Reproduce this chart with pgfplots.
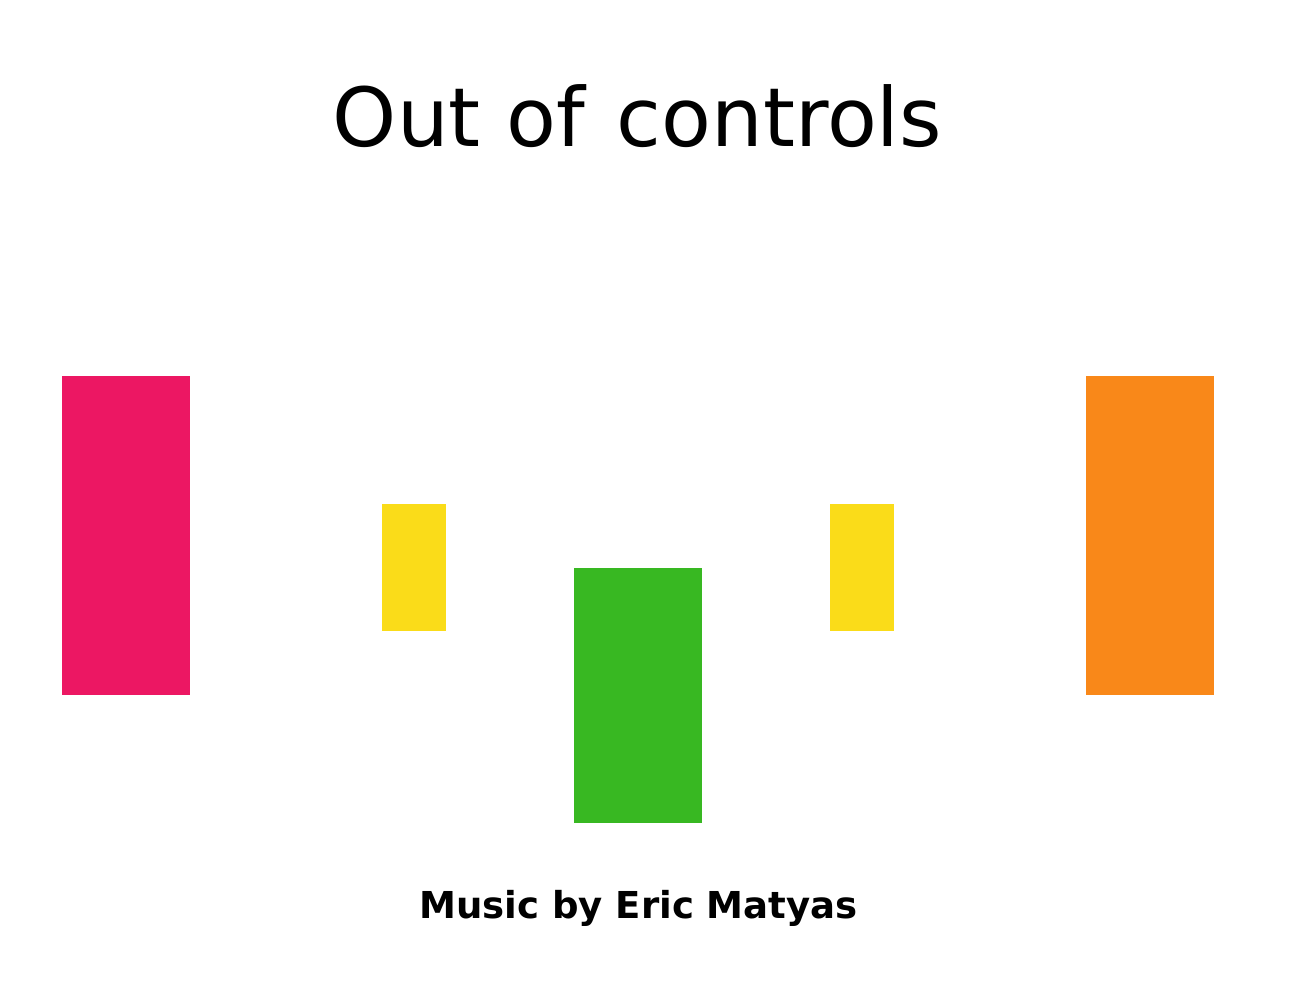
\documentclass[border=0pt]{standalone}
\usepackage{pgfplots}
\pgfplotsset{compat=1.18}
\usepackage{fontspec}
\setmainfont{DejaVu Sans}

\definecolor{barpink}{HTML}{EC1763}
\definecolor{baryellow}{HTML}{FADC19}
\definecolor{bargreen}{HTML}{38B822}
\definecolor{barorange}{HTML}{F98819}

\begin{document}
\begin{tikzpicture}
  \begin{axis}[
    scale only axis,
    width=12.92cm,
    height=10.04cm,
    xmin=0, xmax=1292,
    ymin=0, ymax=1004,
    y dir=reverse,
    hide axis,
    clip=false,
  ]

  % bars: corners in picture units (x left/right, y top/bottom)
  \addplot[fill=barpink, draw=none] coordinates {(62,376) (190,376) (190,695) (62,695)} -- cycle;
  \addplot[fill=baryellow, draw=none] coordinates {(382,504) (446,504) (446,631) (382,631)} -- cycle;
  \addplot[fill=bargreen, draw=none] coordinates {(574,568) (702,568) (702,823) (574,823)} -- cycle;
  \addplot[fill=baryellow, draw=none] coordinates {(830,504) (894,504) (894,631) (830,631)} -- cycle;
  \addplot[fill=barorange, draw=none] coordinates {(1086,376) (1214,376) (1214,695) (1086,695)} -- cycle;

  % frame for the bounding box
  \path (axis cs:0,0) rectangle (axis cs:1292,1004);

  \node[anchor=base, inner sep=0pt, font=\fontsize{23.2}{28}\selectfont] at (axis cs:637.5,146) {Out of\hspace{0.07em} controls};
  \node[anchor=base, inner sep=0pt, font=\bfseries\fontsize{10.55}{13}\selectfont] at (axis cs:638.5,918) {Music by Eric Matyas};

  \end{axis}
\end{tikzpicture}
\end{document}
